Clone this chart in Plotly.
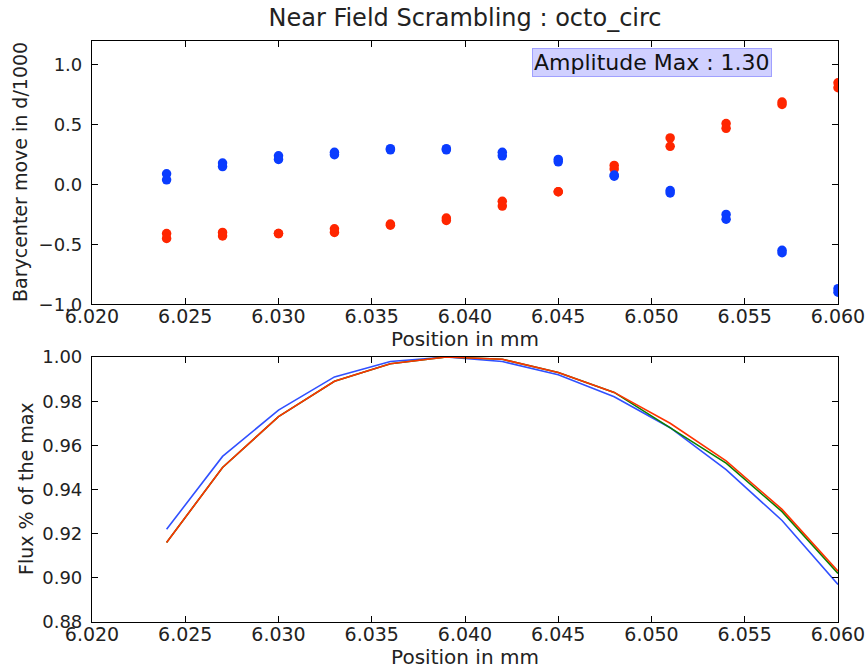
import plotly.graph_objects as go

positions = [6.024, 6.027, 6.030, 6.033, 6.036, 6.039, 6.042, 6.045, 6.048, 6.051, 6.054, 6.057, 6.060]

# Barycenter move (two measurements per position)
blue_a = [0.09, 0.18, 0.24, 0.27, 0.30, 0.30, 0.27, 0.21, 0.08, -0.05, -0.25, -0.55, -0.87]
blue_b = [0.04, 0.15, 0.21, 0.25, 0.29, 0.29, 0.24, 0.19, 0.07, -0.07, -0.29, -0.57, -0.90]
red_a = [-0.41, -0.40, -0.41, -0.37, -0.33, -0.28, -0.14, -0.06, 0.16, 0.39, 0.51, 0.69, 0.85]
red_b = [-0.45, -0.43, -0.41, -0.40, -0.34, -0.30, -0.18, -0.06, 0.13, 0.32, 0.47, 0.67, 0.81]

# Flux % of the max
flux_blue = [0.922, 0.955, 0.976, 0.991, 0.998, 1.000, 0.998, 0.992, 0.982, 0.968, 0.949, 0.926, 0.897]
flux_green = [0.916, 0.950, 0.973, 0.989, 0.997, 1.000, 0.999, 0.993, 0.984, 0.968, 0.952, 0.930, 0.902]
flux_red = [0.916, 0.950, 0.973, 0.989, 0.997, 1.000, 0.999, 0.993, 0.984, 0.970, 0.953, 0.931, 0.903]

x_ticks = [6.020, 6.025, 6.030, 6.035, 6.040, 6.045, 6.050, 6.055, 6.060]
top_yticks = [-1.0, -0.5, 0.0, 0.5, 1.0]
bot_yticks = [0.88, 0.90, 0.92, 0.94, 0.96, 0.98, 1.00]

BLUE = "#0a3cff"
RED = "#ff2600"
FONT = "DejaVu Sans"
TXT = "#222"
W, H = 867, 669

fig = go.Figure()

for ys in (red_a, red_b):
    fig.add_trace(go.Scatter(x=positions, y=ys, mode="markers", xaxis="x", yaxis="y",
                             marker=dict(color=RED, size=9.5, line=dict(width=0)), showlegend=False))
for ys in (blue_a, blue_b):
    fig.add_trace(go.Scatter(x=positions, y=ys, mode="markers", xaxis="x", yaxis="y",
                             marker=dict(color=BLUE, size=9.5, line=dict(width=0)), showlegend=False))

for ys, col in ((flux_blue, "#3050ff"), (flux_green, "#0a8000"), (flux_red, "#ff3300")):
    fig.add_trace(go.Scatter(x=positions, y=ys, mode="lines", xaxis="x2", yaxis="y2",
                             line=dict(color=col, width=1.6), showlegend=False))

axis_common = dict(showline=True, linecolor="black", linewidth=1.2, mirror="allticks",
                   ticks="inside", ticklen=6, tickcolor="black", showgrid=False, zeroline=False,
                   automargin=False)
xfont = dict(family=FONT, size=19, color=TXT)
yfont = dict(family=FONT, size=18, color=TXT)

fig.update_layout(
    width=W, height=H,
    margin=dict(l=92, r=29, t=41, b=47),
    paper_bgcolor="white", plot_bgcolor="white",
    font=dict(family=FONT, color=TXT),
    title=dict(text="Near Field Scrambling : octo_circ", x=(92 + 373) / W, xanchor="center",
               y=1 - 18 / H, yanchor="middle", font=dict(family=FONT, size=24, color=TXT)),
    xaxis=dict(domain=[0, 1], anchor="y", range=[6.020, 6.060], tickvals=x_ticks,
               ticktext=[f"{v:.3f}" for v in x_ticks], ticklabelstandoff=-5, tickfont=xfont,
               title=dict(text="Position in mm", standoff=0, font=dict(family=FONT, size=20)),
               **axis_common),
    yaxis=dict(domain=[0.547, 1], anchor="x", range=[-1.0, 1.2], tickvals=top_yticks,
               ticktext=["\u22121.0", "\u22120.5", "0.0", "0.5", "1.0"], ticklabelstandoff=5,
               tickfont=yfont, **axis_common),
    xaxis2=dict(domain=[0, 1], anchor="y2", range=[6.020, 6.060], tickvals=x_ticks,
                ticktext=[f"{v:.3f}" for v in x_ticks], ticklabelstandoff=-5, tickfont=xfont,
                title=dict(text="Position in mm", standoff=0, font=dict(family=FONT, size=20)),
                **axis_common),
    yaxis2=dict(domain=[0, 0.456], anchor="x2", range=[0.88, 1.00], tickvals=bot_yticks,
                ticktext=[f"{v:.2f}" for v in bot_yticks], ticklabelstandoff=5,
                tickfont=yfont, **axis_common),
)

# y-axis titles
fig.add_annotation(text="Barycenter move in d/1000", xref="paper", yref="paper",
                   x=(20 - 92) / (W - 92 - 29), y=(669 - 47 - 172) / (H - 41 - 47),
                   xanchor="center", yanchor="middle", textangle=-90, showarrow=False,
                   font=dict(family=FONT, size=19, color=TXT))
fig.add_annotation(text="Flux % of the max", xref="paper", yref="paper",
                   x=(26 - 92) / (W - 92 - 29), y=(669 - 47 - 489) / (H - 41 - 47),
                   xanchor="center", yanchor="middle", textangle=-90, showarrow=False,
                   font=dict(family=FONT, size=19, color=TXT))

fig.add_annotation(text="Amplitude Max : 1.30", xref="x domain", yref="y domain",
                   x=0.75, y=0.975, xanchor="center", yanchor="top", showarrow=False,
                   font=dict(family=FONT, size=22, color="#111"),
                   bgcolor="rgba(170,170,255,0.55)", bordercolor="#a0a0ff", borderwidth=1, borderpad=1)

fig.write_html("out.html")
